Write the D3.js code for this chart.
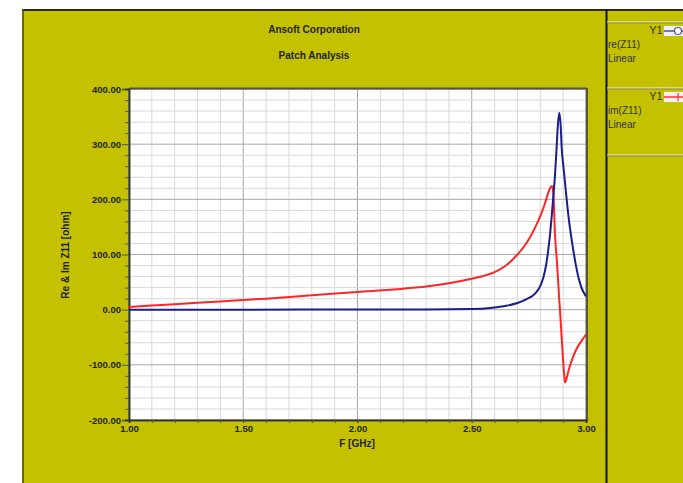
<!DOCTYPE html>
<html>
<head>
<meta charset="utf-8">
<script src="https://cdn.jsdelivr.net/npm/d3@7"></script>
<style>
  html, body { margin: 0; padding: 0; background: #fff; }
  svg { display: block; }
</style>
</head>
<body>
<svg width="683" height="483"></svg>
<script>
// re(Z11) - blue
const reF = [1.0, 1.5, 2.0, 2.3, 2.5, 2.6, 2.65, 2.7, 2.74, 2.777, 2.8, 2.813, 2.825, 2.835, 2.843, 2.85, 2.857, 2.864, 2.871, 2.877, 2.883, 2.889, 2.894, 2.901, 2.908, 2.923, 2.944, 2.955, 2.966, 2.98, 3.0];
const reV = [0, 0, 0.3, 0.5, 1, 4, 7, 12, 19, 29, 43, 58, 80, 109, 138, 170, 205, 242, 291, 335, 357, 335, 291, 260, 231, 170, 109, 82, 60, 40, 24];

// im(Z11) - red
const imF = [1.0, 1.2, 1.4, 1.6, 1.8, 2.0, 2.2, 2.3, 2.4, 2.5, 2.55, 2.6, 2.65, 2.7, 2.73, 2.76, 2.79, 2.82, 2.835, 2.845, 2.851, 2.857, 2.864, 2.874, 2.883, 2.886, 2.896, 2.902, 2.908, 2.915, 2.925, 2.944, 2.96, 2.98, 3.0];
const imV = [5, 10, 15, 20, 26, 32, 38, 42, 48, 56, 61, 68, 80, 100, 115, 135, 160, 192, 212, 222, 224, 212, 139, 79, 18, 0, -67, -105, -132, -125, -108, -85, -70, -57, -45];

const xTicks = [1.0, 1.5, 2.0, 2.5, 3.0];
const yTicks = [-200, -100, 0, 100, 200, 300, 400];

const svg = d3.select("svg");
const font = "'Liberation Sans', Arial, sans-serif";

// panel background
svg.append("rect").attr("x", 22).attr("y", 9).attr("width", 661).attr("height", 474)
    .attr("fill", "#c4c100");
svg.append("line").attr("x1", 22).attr("x2", 683).attr("y1", 10).attr("y2", 10)
    .attr("stroke", "#2a2a10").attr("stroke-width", 2);
svg.append("line").attr("x1", 23).attr("x2", 23).attr("y1", 9).attr("y2", 483)
    .attr("stroke", "#4a4a20").attr("stroke-width", 1.5);

// legend divider
svg.append("line").attr("x1", 606.5).attr("x2", 606.5).attr("y1", 9).attr("y2", 483)
    .attr("stroke", "#111").attr("stroke-width", 2);
[22, 88, 155].forEach(y => {
    svg.append("line").attr("x1", 607).attr("x2", 683).attr("y1", y).attr("y2", y)
        .attr("stroke", "#f2f2e0").attr("stroke-width", 1);
    svg.append("line").attr("x1", 607).attr("x2", 683).attr("y1", y + 1).attr("y2", y + 1)
        .attr("stroke", "#8a8860").attr("stroke-width", 1);
});

const x = d3.scaleLinear().domain([1, 3]).range([129, 586]);
const y = d3.scaleLinear().domain([-200, 400]).range([420, 89]);

// plot area
svg.append("rect").attr("x", 129).attr("y", 89).attr("width", 457).attr("height", 331)
    .attr("fill", "#fff");

// grid
const g = svg.append("g");
d3.range(1.1, 3.0, 0.1).forEach(v => {
    const major = Math.abs(v * 2 - Math.round(v * 2)) < 1e-6;
    g.append("line").attr("x1", x(v)).attr("x2", x(v)).attr("y1", 89).attr("y2", 420)
        .attr("stroke", major ? "#a8a8a8" : "#d9d9d9").attr("stroke-width", 1);
});
d3.range(-180, 400, 20).forEach(v => {
    const major = v % 100 === 0;
    g.append("line").attr("x1", 129).attr("x2", 586).attr("y1", y(v)).attr("y2", y(v))
        .attr("stroke", major ? "#a8a8a8" : "#d9d9d9").attr("stroke-width", 1);
});

// frame
svg.append("rect").attr("x", 129).attr("y", 89).attr("width", 457).attr("height", 331)
    .attr("fill", "none").attr("stroke", "#6a6a50").attr("stroke-width", 1);
svg.append("line").attr("x1", 129).attr("x2", 587).attr("y1", 88.5).attr("y2", 88.5)
    .attr("stroke", "#555540").attr("stroke-width", 2);
svg.append("line").attr("x1", 587).attr("x2", 587).attr("y1", 88).attr("y2", 421)
    .attr("stroke", "#555540").attr("stroke-width", 2);

// axes
const fmt = d => d.toFixed(2);
const yAxis = d3.axisLeft(y).tickValues(yTicks).tickSize(7).tickPadding(1).tickFormat(fmt);
svg.append("g").attr("transform", "translate(129,0)").call(yAxis);
const yMinor = d3.axisLeft(y).tickValues(d3.range(-180, 400, 20).filter(v => v % 100 !== 0))
    .tickSize(4).tickFormat("");
svg.append("g").attr("transform", "translate(129,0)").call(yMinor);

const xAxis = d3.axisBottom(x).tickValues(xTicks).tickSize(3).tickPadding(2).tickFormat(fmt);
svg.append("g").attr("transform", "translate(0,420)").call(xAxis);
const xMinor = d3.axisBottom(x).tickValues(d3.range(1.1, 3.0, 0.1)).tickSize(3).tickFormat("");
svg.append("g").attr("transform", "translate(0,420)").call(xMinor);

svg.selectAll(".domain").attr("stroke", "#333").attr("stroke-width", 1.5);
svg.selectAll(".tick line").attr("stroke", "#555");
svg.selectAll(".tick text").attr("font-family", font).attr("font-size", 9.5)
    .attr("font-weight", "bold").attr("fill", "#222");

// curves
const line = d3.line().x(d => x(d[0])).y(d => y(d[1])).curve(d3.curveMonotoneX);
svg.append("path").attr("d", line(imF.map((f, i) => [f, imV[i]])))
    .attr("fill", "none").attr("stroke", "#ff2525").attr("stroke-width", 2);
svg.append("path").attr("d", line(reF.map((f, i) => [f, reV[i]])))
    .attr("fill", "none").attr("stroke", "#1c1c8c").attr("stroke-width", 2);

// titles
const txt = (t, px, py, opts = {}) => svg.append("text").attr("x", px).attr("y", py)
    .attr("font-family", font).attr("font-size", opts.size || 10)
    .attr("font-weight", opts.weight || "bold").attr("fill", opts.fill || "#222")
    .attr("text-anchor", opts.anchor || "middle").attr("dominant-baseline", "middle")
    .attr("transform", opts.rotate ? `rotate(-90,${px},${py})` : null).text(t);

txt("Ansoft Corporation", 314, 30);
txt("Patch Analysis", 314, 56);
txt("F [GHz]", 357, 444);
txt("Re & Im Z11 [ohm]", 66, 255, { rotate: true });

// legend
txt("Y1", 656, 31, { weight: "normal", size: 11, fill: "#333", anchor: "middle" });
txt("re(Z11)", 608, 45, { weight: "normal", size: 10, fill: "#333", anchor: "start" });
txt("Linear", 608, 59, { weight: "normal", size: 10, fill: "#333", anchor: "start" });
svg.append("rect").attr("x", 664).attr("y", 26).attr("width", 19).attr("height", 10).attr("fill", "#eef");
svg.append("line").attr("x1", 664).attr("x2", 683).attr("y1", 31).attr("y2", 31)
    .attr("stroke", "#5050a0").attr("stroke-width", 1.5);
svg.append("circle").attr("cx", 678).attr("cy", 31).attr("r", 3.5)
    .attr("fill", "#fff").attr("stroke", "#5050a0").attr("stroke-width", 1.2);

txt("Y1", 656, 97, { weight: "normal", size: 11, fill: "#333", anchor: "middle" });
txt("im(Z11)", 608, 111, { weight: "normal", size: 10, fill: "#333", anchor: "start" });
txt("Linear", 608, 125, { weight: "normal", size: 10, fill: "#333", anchor: "start" });
svg.append("rect").attr("x", 664).attr("y", 92).attr("width", 19).attr("height", 10).attr("fill", "#fee");
svg.append("line").attr("x1", 664).attr("x2", 683).attr("y1", 97).attr("y2", 97)
    .attr("stroke", "#ff3030").attr("stroke-width", 1.5);
svg.append("line").attr("x1", 678).attr("x2", 678).attr("y1", 93).attr("y2", 101)
    .attr("stroke", "#ff3030").attr("stroke-width", 1.2);
</script>
</body>
</html>
